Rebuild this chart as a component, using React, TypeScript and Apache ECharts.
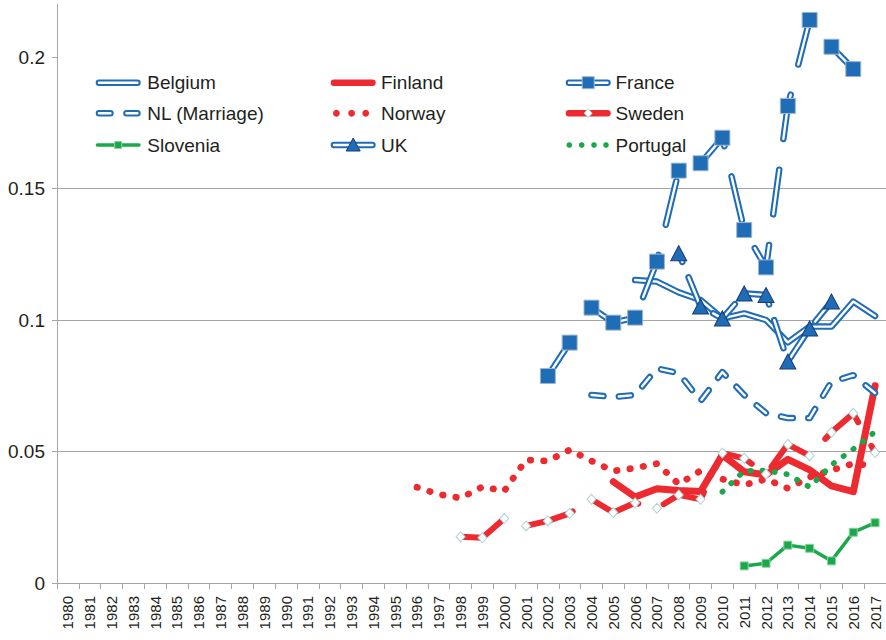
import React, { useEffect, useRef } from 'react';
import * as echarts from 'echarts';

const years = [
  '1980', '1981', '1982', '1983', '1984', '1985', '1986', '1987', '1988', '1989',
  '1990', '1991', '1992', '1993', '1994', '1995', '1996', '1997', '1998', '1999',
  '2000', '2001', '2002', '2003', '2004', '2005', '2006', '2007', '2008', '2009',
  '2010', '2011', '2012', '2013', '2014', '2015', '2016', '2017',
];

const yTicks = [0, 0.05, 0.1, 0.15, 0.2];

const belgiumStart = '2006';
const belgium = [0.1152, 0.1146, 0.1105, 0.1076, 0.1006, 0.1025, 0.1, 0.0915, 0.0975, 0.0975, 0.107, 0.1015];

const finlandStart = '2005';
const finland = [0.0385, 0.0327, 0.0358, 0.0352, 0.0348, 0.0487, 0.0423, 0.0411, 0.047, 0.043, 0.0369, 0.0347, 0.075];

const franceStart = '2002';
const france = [0.0787, 0.0914, 0.1047, 0.099, 0.1009, 0.1222, 0.1568, 0.1596, 0.1693, 0.1342, 0.12, 0.1814, 0.2141, 0.2039, 0.1954];

const nlStart = '2004';
const nl = [0.0715, 0.0707, 0.0715, 0.0816, 0.0798, 0.0692, 0.0802, 0.0715, 0.0646, 0.0627, 0.0627, 0.0765, 0.079, 0.0722];

const norwayStart = '1996';
const norway = [0.0364, 0.0337, 0.0323, 0.0366, 0.035, 0.0468, 0.0464, 0.0506, 0.0464, 0.0426, 0.0437, 0.0454, 0.0376, 0.0427, 0.0395, 0.0373, 0.0395, 0.036, 0.0403, 0.0429, 0.0454, 0.0445];

const swedenStart = '1998';
const sweden = [0.0176, 0.0172, 0.0245, 0.0217, 0.0236, 0.0265, 0.0318, 0.0268, 0.0305, 0.0284, 0.0335, 0.0318, 0.0494, 0.0474, 0.0414, 0.0527, 0.0484, 0.0573, 0.0645, 0.0496];

const sloveniaStart = '2011';
const slovenia = [0.0065, 0.0075, 0.0144, 0.0132, 0.0084, 0.0193, 0.0229];

const ukStart = '2008';
const uk = [0.1254, 0.1051, 0.1006, 0.1101, 0.1095, 0.0842, 0.0968, 0.107];

const portugalStart = '2010';
const portugal = [0.0347, 0.0426, 0.0428, 0.0413, 0.0365, 0.0449, 0.0509, 0.0575];

const legendNames = ['Belgium', 'Finland', 'France', 'NL (Marriage)', 'Norway', 'Sweden', 'Slovenia', 'UK', 'Portugal'];

const BLUE = '#1f6db6';
const RED = '#ec2a30';
const GREEN = '#19a84a';
const TEXT = '#231f20';
const GRID = '#a6a6a6';
const FONT = '"Liberation Sans", Arial, Helvetica, sans-serif';

function pad(start: string, values: number[]) {
  const out: (number | null)[] = years.map(() => null);
  const s = years.indexOf(start);
  values.forEach((v, i) => {
    out[s + i] = v;
  });
  return out;
}

const base: any = {
  type: 'line',
  silent: true,
  connectNulls: false,
  showAllSymbol: true,
  animation: false,
};

function doubleSeries(name: string, data: (number | null)[], dash: any, offset: number, marker?: any) {
  const ls = { type: dash, dashOffset: offset, cap: 'round', join: 'round' };
  const outer = {
    ...base,
    name,
    data,
    symbol: 'none',
    lineStyle: { ...ls, color: BLUE, width: 6.5 },
  };
  const inner = {
    ...base,
    name: name + '-inner',
    data,
    symbol: marker ? marker.symbol : 'none',
    symbolSize: marker ? marker.size : 0,
    itemStyle: marker ? marker.itemStyle : undefined,
    lineStyle: { ...ls, color: '#ffffff', width: 2.4 },
  };
  return [outer, inner];
}

function buildSeries() {
  const s: any[] = [];
  s.push(...doubleSeries(legendNames[0], pad(belgiumStart, belgium), 'solid', 0));
  s.push({
    ...base,
    name: legendNames[1],
    data: pad(finlandStart, finland),
    symbol: 'none',
    lineStyle: { color: RED, width: 7, cap: 'round', join: 'round' },
  });
  s.push(
    ...doubleSeries(legendNames[2], pad(franceStart, france), [45, 31], 0, {
      symbol: 'rect',
      size: 15,
      itemStyle: { color: BLUE, borderColor: '#9fb6c9', borderWidth: 1 },
    })
  );
  s.push(...doubleSeries(legendNames[3], pad(nlStart, nl), [12, 15.5], 0));
  s.push({
    ...base,
    name: legendNames[4],
    data: pad(norwayStart, norway),
    symbol: 'none',
    lineStyle: { color: RED, width: 6.7, type: [0.5, 12.9], cap: 'round', join: 'round' },
  });
  s.push({
    ...base,
    name: legendNames[5],
    data: pad(swedenStart, sweden),
    symbol: 'diamond',
    symbolSize: [9, 10],
    itemStyle: { color: '#ffffff', borderColor: '#a9d3d6', borderWidth: 1 },
    lineStyle: { color: RED, width: 6, type: [48, 27], cap: 'round', join: 'round' },
  });
  s.push({
    ...base,
    name: legendNames[6],
    data: pad(sloveniaStart, slovenia),
    symbol: 'rect',
    symbolSize: 8,
    itemStyle: { color: GREEN, borderColor: '#8fd0a0', borderWidth: 1 },
    lineStyle: { color: GREEN, width: 3.5, cap: 'round', join: 'round' },
  });
  s.push(
    ...doubleSeries(legendNames[7], pad(ukStart, uk), [29.5, 16.5], 19.5, {
      symbol: 'triangle',
      size: [16, 15],
      itemStyle: { color: BLUE, borderColor: '#1b3a78', borderWidth: 1 },
    })
  );
  s.push({
    ...base,
    name: legendNames[8],
    data: pad(portugalStart, portugal),
    symbol: 'none',
    lineStyle: { color: GREEN, width: 5.6, type: [0.5, 11.6], cap: 'round', join: 'round' },
  });
  return s;
}

const legendIconX = [95.7, 330.7, 565.7];
const legendTextX = [147.3, 381, 615.5];
const legendRowY = [82.7, 113.2, 145];
const ICON_W = 45;

function lineEl(x1: number, x2: number, y: number, stroke: string, w: number, dash?: number[]) {
  return {
    type: 'line',
    silent: true,
    shape: { x1: x1 + w / 2, y1: y, x2: x2 - w / 2, y2: y },
    style: { stroke, lineWidth: w, lineCap: 'round', lineDash: dash || null },
  };
}

function buildLegend() {
  const els: any[] = [];
  legendNames.forEach((name, i) => {
    const col = i % 3;
    const row = Math.floor(i / 3);
    const x0 = legendIconX[col];
    const x1 = x0 + ICON_W;
    const y = legendRowY[row];
    const cx = (x0 + x1) / 2;
    if (name === 'Belgium' || name === 'France' || name === 'UK') {
      els.push(lineEl(x0, x1, y, BLUE, 6.5));
      els.push({
        type: 'line',
        silent: true,
        shape: { x1: x0 + 3.25, y1: y, x2: x1 - 3.25, y2: y },
        style: { stroke: '#ffffff', lineWidth: 2.4, lineCap: 'round' },
      });
      if (name === 'France') {
        els.push({
          type: 'rect',
          silent: true,
          shape: { x: cx - 6, y: y - 6, width: 12, height: 12 },
          style: { fill: BLUE, stroke: '#9fb6c9', lineWidth: 1 },
        });
      }
      if (name === 'UK') {
        els.push({
          type: 'polygon',
          silent: true,
          shape: { points: [[cx, y - 7], [cx + 7, y + 6], [cx - 7, y + 6]] },
          style: { fill: BLUE, stroke: '#1b3a78', lineWidth: 1 },
        });
      }
    } else if (name === 'NL (Marriage)') {
      els.push({
        type: 'line',
        silent: true,
        shape: { x1: x0 + 3.25, y1: y, x2: x1 - 3.25, y2: y },
        style: { stroke: BLUE, lineWidth: 6.5, lineCap: 'round', lineDash: [11.5, 16] },
      });
      els.push({
        type: 'line',
        silent: true,
        shape: { x1: x0 + 3.25, y1: y, x2: x1 - 3.25, y2: y },
        style: { stroke: '#ffffff', lineWidth: 2.4, lineCap: 'round', lineDash: [11.5, 16] },
      });
    } else if (name === 'Finland') {
      els.push(lineEl(x0, x1, y, RED, 6.5));
    } else if (name === 'Sweden') {
      els.push(lineEl(x0, x1, y, RED, 6.5));
      els.push({
        type: 'polygon',
        silent: true,
        shape: { points: [[cx, y - 4.5], [cx + 4, y], [cx, y + 4.5], [cx - 4, y]] },
        style: { fill: '#ffffff', stroke: '#a9d3d6', lineWidth: 1 },
      });
    } else if (name === 'Slovenia') {
      els.push(lineEl(x0, x1, y, GREEN, 3.5));
      els.push({
        type: 'rect',
        silent: true,
        shape: { x: cx - 3.5, y: y - 3.5, width: 7, height: 7 },
        style: { fill: GREEN, stroke: '#8fd0a0', lineWidth: 1 },
      });
    } else if (name === 'Norway') {
      [2.3, 17.5, 31.6].forEach((dx) => {
        els.push({
          type: 'circle',
          silent: true,
          shape: { cx: x0 + dx + 3.4, cy: y, r: 3.4 },
          style: { fill: RED },
        });
      });
    } else if (name === 'Portugal') {
      [0.8, 13.2, 25.5, 37.5].forEach((dx) => {
        els.push({
          type: 'circle',
          silent: true,
          shape: { cx: x0 + dx + 2.8, cy: y, r: 2.8 },
          style: { fill: GREEN },
        });
      });
    }
    els.push({
      type: 'text',
      silent: true,
      x: legendTextX[col],
      y,
      style: {
        text: name,
        fill: TEXT,
        fontSize: 19,
        fontFamily: FONT,
        align: 'left',
        verticalAlign: 'middle',
      },
    });
  });
  return els;
}

export default function App() {
  const ref = useRef<HTMLDivElement>(null);
  useEffect(() => {
    const chart = echarts.init(ref.current as HTMLDivElement, null, { renderer: 'svg' });
    const option: any = {
      animation: false,
      backgroundColor: '#ffffff',
      grid: { left: 57, top: 4.4, width: 830, height: 578.6, containLabel: false },
      xAxis: {
        type: 'category',
        data: years,
        boundaryGap: true,
        axisLine: { show: true, lineStyle: { color: GRID, width: 1 } },
        axisTick: { show: true, interval: 0, length: 6, lineStyle: { color: GRID } },
        axisLabel: {
          interval: 0,
          rotate: 90,
          fontSize: 15,
          color: TEXT,
          fontFamily: FONT,
          margin: 13,
        },
        splitLine: { show: false },
      },
      yAxis: {
        type: 'value',
        min: 0,
        max: 0.22,
        interval: 0.05,
        axisLine: { show: true, lineStyle: { color: GRID, width: 1 } },
        axisTick: { show: true, length: 5, lineStyle: { color: GRID }, customValues: yTicks },
        axisLabel: {
          customValues: yTicks,
          fontSize: 19,
          color: TEXT,
          fontFamily: FONT,
          margin: 12,
          formatter: (v: number) => String(parseFloat(v.toFixed(2))),
        },
        splitLine: { show: true, showMaxLine: false, lineStyle: { color: GRID, width: 1 } },
      },
      graphic: buildLegend(),
      series: buildSeries(),
    };
    chart.setOption(option);
    return () => chart.dispose();
  }, []);
  return (
    <div
      ref={ref}
      style={{ position: 'absolute', left: 0, top: 0, width: 886, height: 640, background: '#fff' }}
    />
  );
}
